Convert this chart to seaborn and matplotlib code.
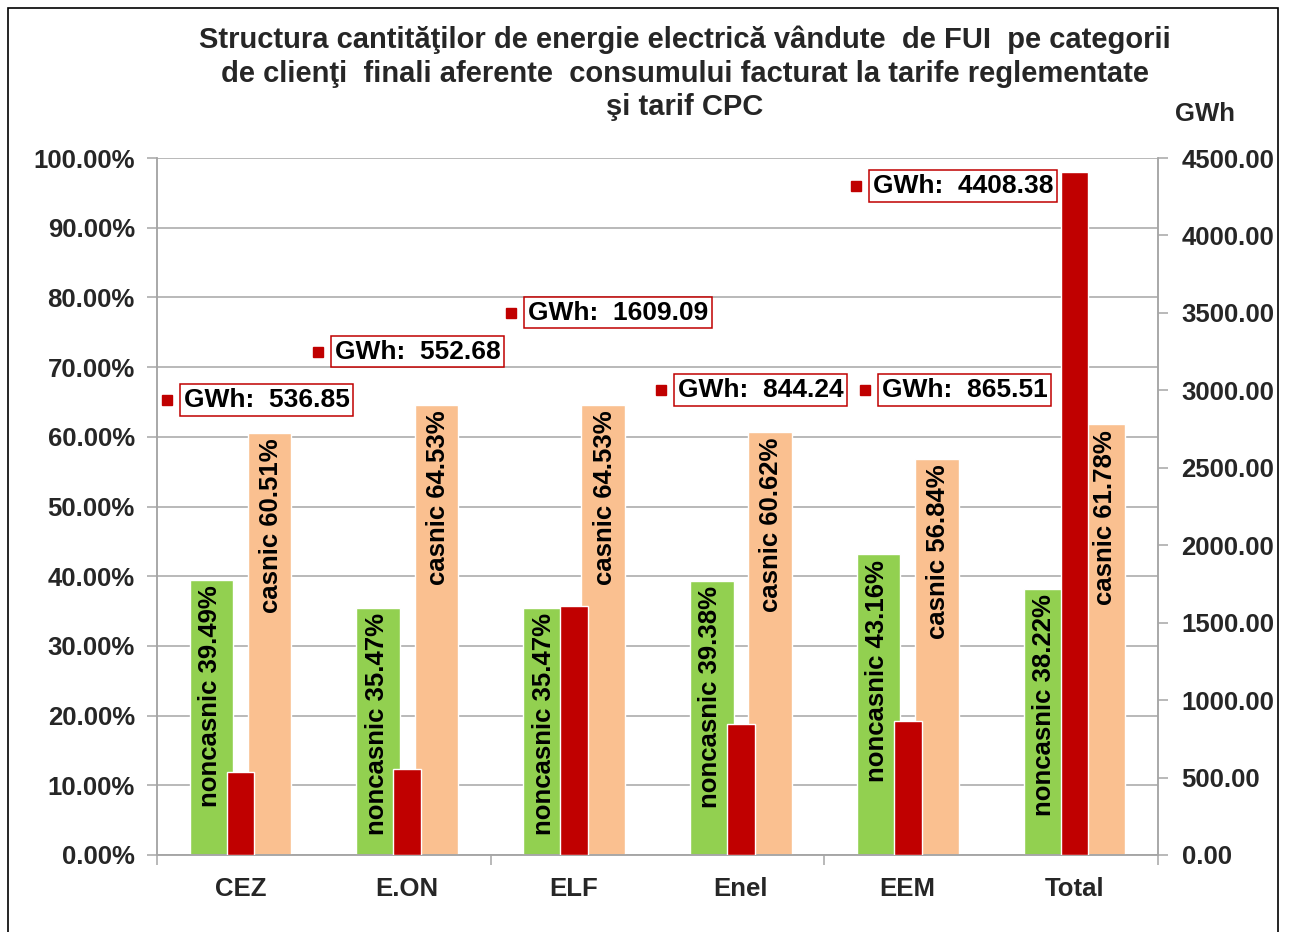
import numpy as np
import pandas as pd
import matplotlib
matplotlib.use("Agg")
import matplotlib.pyplot as plt
from matplotlib.ticker import FuncFormatter, MultipleLocator, FixedLocator
from matplotlib.patches import Rectangle
import seaborn as sns

# ---- data ----
categories = ["CEZ", "E.ON", "ELF", "Enel", "EEM", "Total"]
noncasnic_pct = [39.49, 35.47, 35.47, 39.38, 43.16, 38.22]
casnic_pct = [60.51, 64.53, 64.53, 60.62, 56.84, 61.78]
gwh = [536.85, 552.68, 1609.09, 844.24, 865.51, 4408.38]
series_names = ["noncasnic", "casnic"]

title = ("Structura cantităţilor de energie electrică vândute  de FUI  pe categorii\n"
         "de clienţi  finali aferente  consumului facturat la tarife reglementate\n"
         "şi tarif CPC")

# label anchor positions (category units, percent axis) for the GWh callouts
gwh_label_pos = [(-0.44, 65.3), (0.465, 72.2), (1.622, 77.8),
                 (2.521, 66.7), (3.744, 66.7), (3.690, 96.0)]

GREEN = "#92D050"
PEACH = "#FAC090"
RED = "#C00000"
GRID = "#A6A6A6"
FS = 18.5

sns.set_style("white")
plt.rcParams["font.family"] = ["Liberation Sans", "DejaVu Sans"]
plt.rcParams["font.weight"] = "bold"

fig = plt.figure(figsize=(12.89, 9.32), dpi=100)
ax = fig.add_axes([157 / 1289, 1 - 855 / 932, (1158 - 157) / 1289, (855 - 158) / 932])

df = pd.DataFrame({
    "cat": categories * 2,
    "serie": [series_names[0]] * len(categories) + [series_names[1]] * len(categories),
    "val": noncasnic_pct + casnic_pct,
})
sns.barplot(data=df, x="cat", y="val", hue="serie", order=categories,
            hue_order=series_names, palette={"noncasnic": GREEN, "casnic": PEACH},
            width=0.696, gap=0.25, saturation=1, legend=False, ax=ax, zorder=2)

ax2 = ax.twinx()
sns.barplot(x=categories, y=gwh, order=categories, color=RED, width=0.165,
            saturation=1, ax=ax2, zorder=3)

# axes limits and ticks
ax.set_xlim(-0.5, 5.5)
ax2.set_xlim(-0.5, 5.5)
ax.set_ylim(0, 100)
ax2.set_ylim(0, 4500)
ax.yaxis.set_major_locator(MultipleLocator(10))
ax2.yaxis.set_major_locator(MultipleLocator(500))
ax.yaxis.set_major_formatter(FuncFormatter(lambda v, p: f"{v:.2f}%"))
ax2.yaxis.set_major_formatter(FuncFormatter(lambda v, p: f"{v:.2f}"))
ax.set_xlabel("")
ax.set_ylabel("")
ax2.set_ylabel("")
ax2.set_xlabel("")

ax.grid(axis="y", color=GRID, linewidth=1.1)
ax.grid(axis="x", visible=False)
ax.set_axisbelow(True)
ax2.grid(False)

for a in (ax, ax2):
    for s in a.spines.values():
        s.set_color(GRID)
        s.set_linewidth(1.1)
    a.spines["top"].set_visible(False)

ax.tick_params(axis="y", which="major", direction="out", length=7, width=1.1,
               color=GRID, pad=9, labelsize=FS, left=True)
ax2.tick_params(axis="y", which="major", direction="out", length=7, width=1.1,
                color=GRID, pad=10, labelsize=FS, right=True)
ax.xaxis.set_minor_locator(FixedLocator([-0.5, 1.5, 3.5, 5.5]))
ax.tick_params(axis="x", which="major", length=0, pad=15.5, labelsize=FS)
ax.tick_params(axis="x", which="minor", direction="out", length=7, width=1.1,
               color=GRID, bottom=True)
ax2.tick_params(axis="x", which="both", length=0, labelbottom=False)
for lbl in ax.get_xticklabels() + ax.get_yticklabels() + ax2.get_yticklabels():
    lbl.set_fontweight("bold")

# vertical labels inside percent bars
for cont, name in zip(ax.containers, series_names):
    vals = noncasnic_pct if name == "noncasnic" else casnic_pct
    dx = -1 if name == "noncasnic" else 1
    for patch, val in zip(cont.patches, vals):
        cx = patch.get_x() + patch.get_width() / 2
        top = patch.get_height()
        ax.annotate(f"{name} {val:.2f}%", xy=(cx, top), xytext=(dx, -4),
                    textcoords="offset points", rotation=90, ha="center", va="top",
                    fontsize=FS, fontweight="bold", color="black", zorder=5)

# GWh callouts
for (px, py), v in zip(gwh_label_pos, gwh):
    ax.plot([px], [py], marker="s", markersize=7.5, color=RED, linestyle="none",
            zorder=6, clip_on=False)
    ax.annotate(f"GWh:  {v:.2f}", xy=(px, py), xytext=(12, 0),
                textcoords="offset points", ha="left", va="center",
                fontsize=19, fontweight="bold", color="black", zorder=6,
                bbox=dict(boxstyle="square,pad=0.14", fc="white", ec=RED, lw=1.1))

fig.text(685 / 1289, 1 - 73.5 / 932, title, ha="center", va="center",
         fontsize=21, fontweight="bold", linespacing=1.25)
fig.text(1205 / 1289, 1 - 114 / 932, "GWh", ha="center", va="center",
         fontsize=FS, fontweight="bold")

# outer chart frame
fig.patches.append(Rectangle((8 / 1289, -0.05), (1278 - 8) / 1289, 1.05 - 8 / 932,
                             transform=fig.transFigure, fill=False,
                             edgecolor="black", linewidth=1.2))

fig.savefig("out.png", dpi=100)
